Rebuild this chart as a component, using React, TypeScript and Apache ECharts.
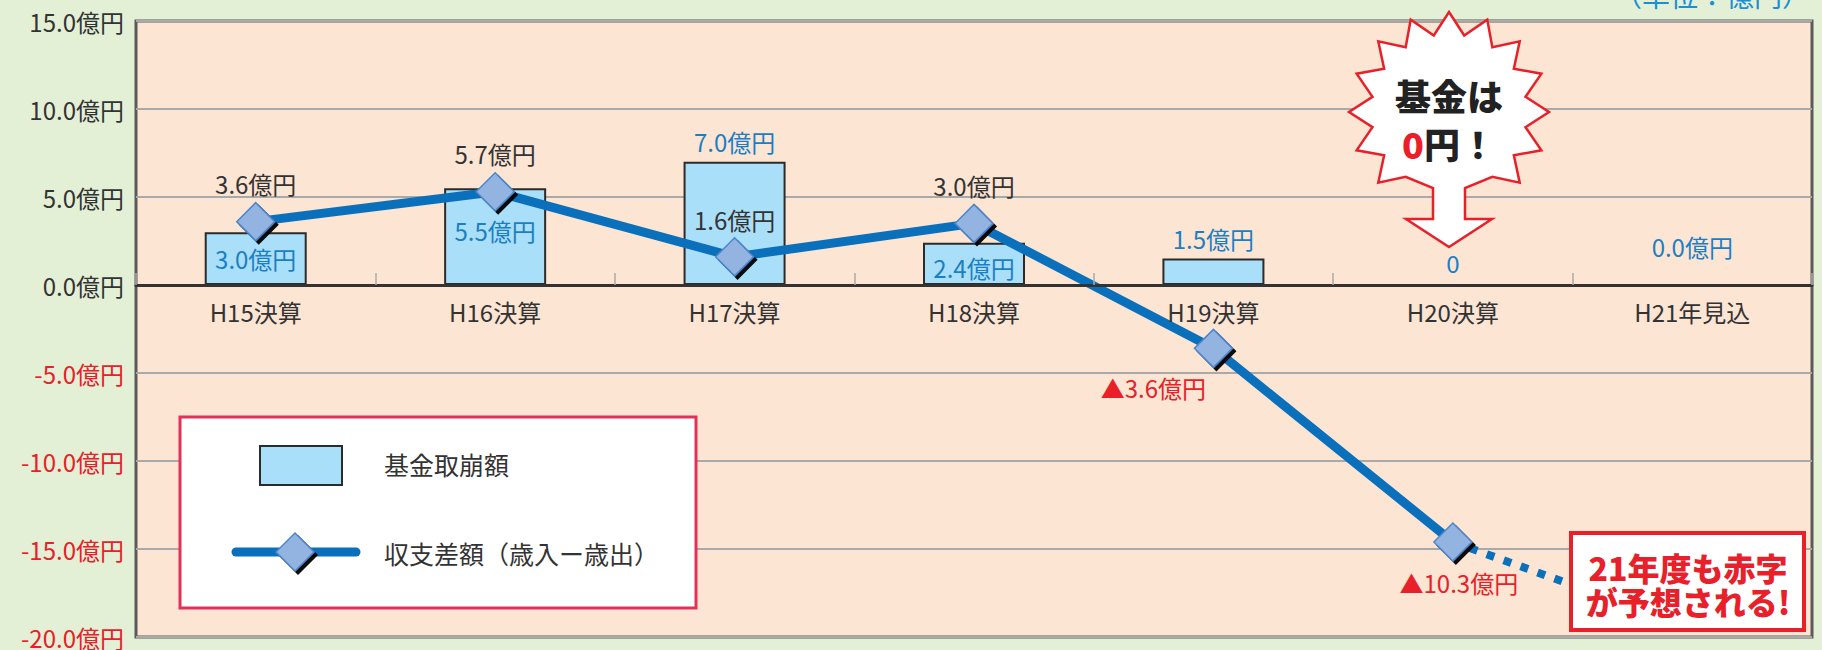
import React, { useEffect, useRef } from "react";
import * as echarts from "echarts";

const categories = ["H15決算", "H16決算", "H17決算", "H18決算", "H19決算", "H20決算", "H21年見込"];
const fundWithdrawal = [3.0, 5.5, 7.0, 2.4, 1.5, 0, 0];
const fundLabels = ["3.0億円", "5.5億円", "7.0億円", "2.4億円", "1.5億円", "0", "0.0億円"];
const balance: (number | null)[] = [3.6, 5.3, 1.6, 3.5, -3.6, -14.6, null];
const balanceLabels = ["3.6億円", "5.7億円", "1.6億円", "3.0億円", "▲3.6億円", "▲10.3億円", ""];
const balanceForecast: (number | null)[] = [null, null, null, null, null, -14.6, -19.5];
const yMin = -20;
const yMax = 15;
const yStep = 5;

const FONT = '"Noto Sans CJK JP", "Noto Sans", sans-serif';
const RED = "#e8202a";
const BLUE_TEXT = "#1b7fc4";
const LINE_BLUE = "#0a70bb";

const GRID_TOP = 21;
const GRID_BOTTOM = 13;
const CHART_H = 650;

// label placement styles (not data)
const fundLabelStyle = [
  { position: "insideTop", distance: 14 },
  { position: "insideTop", distance: 30 },
  { position: "top", distance: 8 },
  { position: "insideTop", distance: 13 },
  { position: "top", distance: 8 },
  { position: "top", distance: 10 },
  { position: "top", distance: 26 },
];
const balanceLabelStyle = [
  { position: "top", distance: 6, color: "#333" },
  { position: "top", distance: 6, color: "#333" },
  { position: "top", distance: 6, color: "#333" },
  { position: "top", distance: 6, color: "#333" },
  { position: "bottom", distance: 7, color: RED, offset: [-60, 0] },
  { position: "bottom", distance: 9, color: RED, offset: [6, 0] },
  { position: "top", distance: 6, color: "#333" },
];

function starWithArrow(cx: number, cy: number, rx: number, ry: number, inner: number, n: number) {
  const pts: number[][] = [];
  const total = n * 2;
  for (let i = 0; i < total; i++) {
    const a = (i * Math.PI) / n;
    const deg = (a * 180) / Math.PI;
    if (Math.abs(deg - 180) < 25) {
      if (i === n) {
        pts.push([cx + 16, cy + 76]);
        pts.push([cx + 16, cy + 107]);
        pts.push([cx + 43, cy + 107]);
        pts.push([cx, cy + 135]);
        pts.push([cx - 43, cy + 107]);
        pts.push([cx - 16, cy + 107]);
        pts.push([cx - 16, cy + 76]);
      }
      continue;
    }
    const k = i % 2 === 0 ? 1 : inner;
    pts.push([cx + rx * k * Math.sin(a), cy - ry * k * Math.cos(a)]);
  }
  return pts;
}

export default function App() {
  const ref = useRef<HTMLDivElement>(null);
  useEffect(() => {
    if (!ref.current) return;
    const chart = echarts.init(ref.current, null, { renderer: "svg" });
    const cx = 1449;
    const cy = 112;
    const plotH = CHART_H - GRID_TOP - GRID_BOTTOM;
    const zeroFromBottom = (plotH * (0 - yMin)) / (yMax - yMin);
    const option: any = {
      animation: false,
      backgroundColor: "#e3f0d6",
      textStyle: { fontFamily: FONT },
      grid: {
        left: 136,
        right: 10,
        top: GRID_TOP,
        bottom: GRID_BOTTOM,
        show: true,
        backgroundColor: "#fde5d3",
        borderColor: "#5a5a5a",
        borderWidth: 3,
        containLabel: false,
      },
      xAxis: {
        type: "category",
        data: categories,
        boundaryGap: true,
        offset: -zeroFromBottom,
        axisLine: { show: true, onZero: false, lineStyle: { color: "#333", width: 3 } },
        axisTick: { show: true, inside: true, length: 12, lineStyle: { color: "#aaa", width: 1.5 } },
        axisLabel: { color: "#333", fontSize: 24, fontFamily: FONT, margin: 14 },
        splitLine: { show: false },
        z: 5,
      },
      yAxis: {
        type: "value",
        min: yMin,
        max: yMax,
        interval: yStep,
        axisLine: { show: false },
        axisTick: { show: false },
        axisLabel: {
          fontSize: 24,
          fontFamily: FONT,
          margin: 12,
          formatter: (v: number) => `${v.toFixed(1)}億円`,
          color: (v: any) => (Number(v) < 0 ? RED : "#333"),
        },
        splitLine: { show: true, lineStyle: { color: "#a9a9a9", width: 2 } },
      },
      series: [
        {
          name: "基金取崩額",
          type: "bar",
          barWidth: 102,
          z: 2,
          itemStyle: { color: "#aadff9", borderColor: "#2b2b2b", borderWidth: 2 },
          data: fundWithdrawal.map((v, i) => ({
            value: v,
            label: {
              show: true,
              position: fundLabelStyle[i].position,
              distance: fundLabelStyle[i].distance,
              formatter: fundLabels[i],
              color: BLUE_TEXT,
              fontSize: 24,
              fontFamily: FONT,
            },
          })),
        },
        {
          name: "forecast",
          type: "line",
          z: 3,
          showSymbol: false,
          symbol: "none",
          silent: true,
          lineStyle: { color: LINE_BLUE, width: 8, type: [8, 10], cap: "butt" },
          data: balanceForecast,
        },
        {
          name: "収支差額（歳入ー歳出）",
          type: "line",
          z: 4,
          symbol: "diamond",
          symbolSize: 38,
          lineStyle: { color: LINE_BLUE, width: 9 },
          itemStyle: {
            color: "#93b3e0",
            borderColor: "#4f86cb",
            borderWidth: 1.5,
            shadowColor: "rgba(0,0,0,0.95)",
            shadowOffsetX: 3,
            shadowOffsetY: 3,
            shadowBlur: 1,
          },
          data: balance.map((v, i) => ({
            value: v,
            label: {
              show: balanceLabels[i] !== "",
              position: balanceLabelStyle[i].position,
              distance: balanceLabelStyle[i].distance,
              offset: (balanceLabelStyle[i] as any).offset || [0, 0],
              formatter: balanceLabels[i],
              color: balanceLabelStyle[i].color,
              fontSize: 24,
              fontFamily: FONT,
            },
          })),
        },
      ],
      graphic: [
        {
          type: "rect",
          z: 100,
          shape: { x: 180, y: 417, width: 516, height: 191 },
          style: { fill: "#ffffff", stroke: "#e3305a", lineWidth: 3 },
        },
        {
          type: "rect",
          z: 101,
          shape: { x: 260, y: 446, width: 82, height: 39 },
          style: { fill: "#aadff9", stroke: "#2b2b2b", lineWidth: 2 },
        },
        {
          type: "text",
          z: 101,
          x: 384,
          y: 464,
          style: { text: "基金取崩額", fill: "#333", fontSize: 25, fontFamily: FONT, verticalAlign: "middle" },
        },
        {
          type: "line",
          z: 101,
          shape: { x1: 236, y1: 552, x2: 356, y2: 552 },
          style: { stroke: LINE_BLUE, lineWidth: 9, lineCap: "round" },
        },
        {
          type: "polygon",
          z: 102,
          shape: { points: [[295, 533], [314, 552], [295, 571], [276, 552]] },
          style: {
            fill: "#93b3e0",
            stroke: "#4f86cb",
            lineWidth: 1.5,
            shadowColor: "rgba(0,0,0,0.95)",
            shadowOffsetX: 3,
            shadowOffsetY: 3,
            shadowBlur: 1,
          },
        },
        {
          type: "text",
          z: 101,
          x: 384,
          y: 553,
          style: { text: "収支差額（歳入ー歳出）", fill: "#333", fontSize: 25, fontFamily: FONT, verticalAlign: "middle" },
        },
        {
          type: "polygon",
          z: 100,
          shape: { points: starWithArrow(cx, cy, 100, 100, 0.78, 16) },
          style: { fill: "#ffffff", stroke: "#e8202a", lineWidth: 2.5, lineJoin: "miter" },
        },
        {
          type: "text",
          z: 101,
          x: cx,
          y: cy - 17,
          style: {
            text: "基金は",
            fill: "#222",
            fontSize: 36,
            fontWeight: 900,
            fontFamily: FONT,
            align: "center",
            verticalAlign: "middle",
          },
        },
        {
          type: "text",
          z: 101,
          x: cx,
          y: cy + 31,
          style: {
            text: "{r|0}{b|円！}",
            align: "center",
            verticalAlign: "middle",
            rich: {
              r: { fill: RED, fontSize: 36, fontWeight: 900, fontFamily: FONT },
              b: { fill: "#222", fontSize: 36, fontWeight: 900, fontFamily: FONT },
            },
          },
        },
        {
          type: "rect",
          z: 100,
          shape: { x: 1571, y: 533, width: 233, height: 97 },
          style: { fill: "#ffffff", stroke: RED, lineWidth: 4 },
        },
        {
          type: "text",
          z: 101,
          x: 1688,
          y: 567,
          style: {
            text: "21年度も赤字",
            fill: RED,
            fontSize: 32,
            fontWeight: 900,
            fontFamily: FONT,
            align: "center",
            verticalAlign: "middle",
          },
        },
        {
          type: "text",
          z: 101,
          x: 1688,
          y: 601,
          style: {
            text: "が予想される!",
            fill: RED,
            fontSize: 32,
            fontWeight: 900,
            fontFamily: FONT,
            align: "center",
            verticalAlign: "middle",
          },
        },
        {
          type: "text",
          z: 101,
          x: 1810,
          y: 9,
          style: {
            text: "（単位：億円）",
            fill: "#1a8fd6",
            fontSize: 28,
            fontFamily: FONT,
            align: "right",
            verticalAlign: "bottom",
          },
        },
      ],
    };
    chart.setOption(option);
    return () => chart.dispose();
  }, []);
  return (
    <div
      ref={ref}
      style={{ position: "absolute", left: 0, top: 0, width: 1822, height: 650 }}
    />
  );
}
